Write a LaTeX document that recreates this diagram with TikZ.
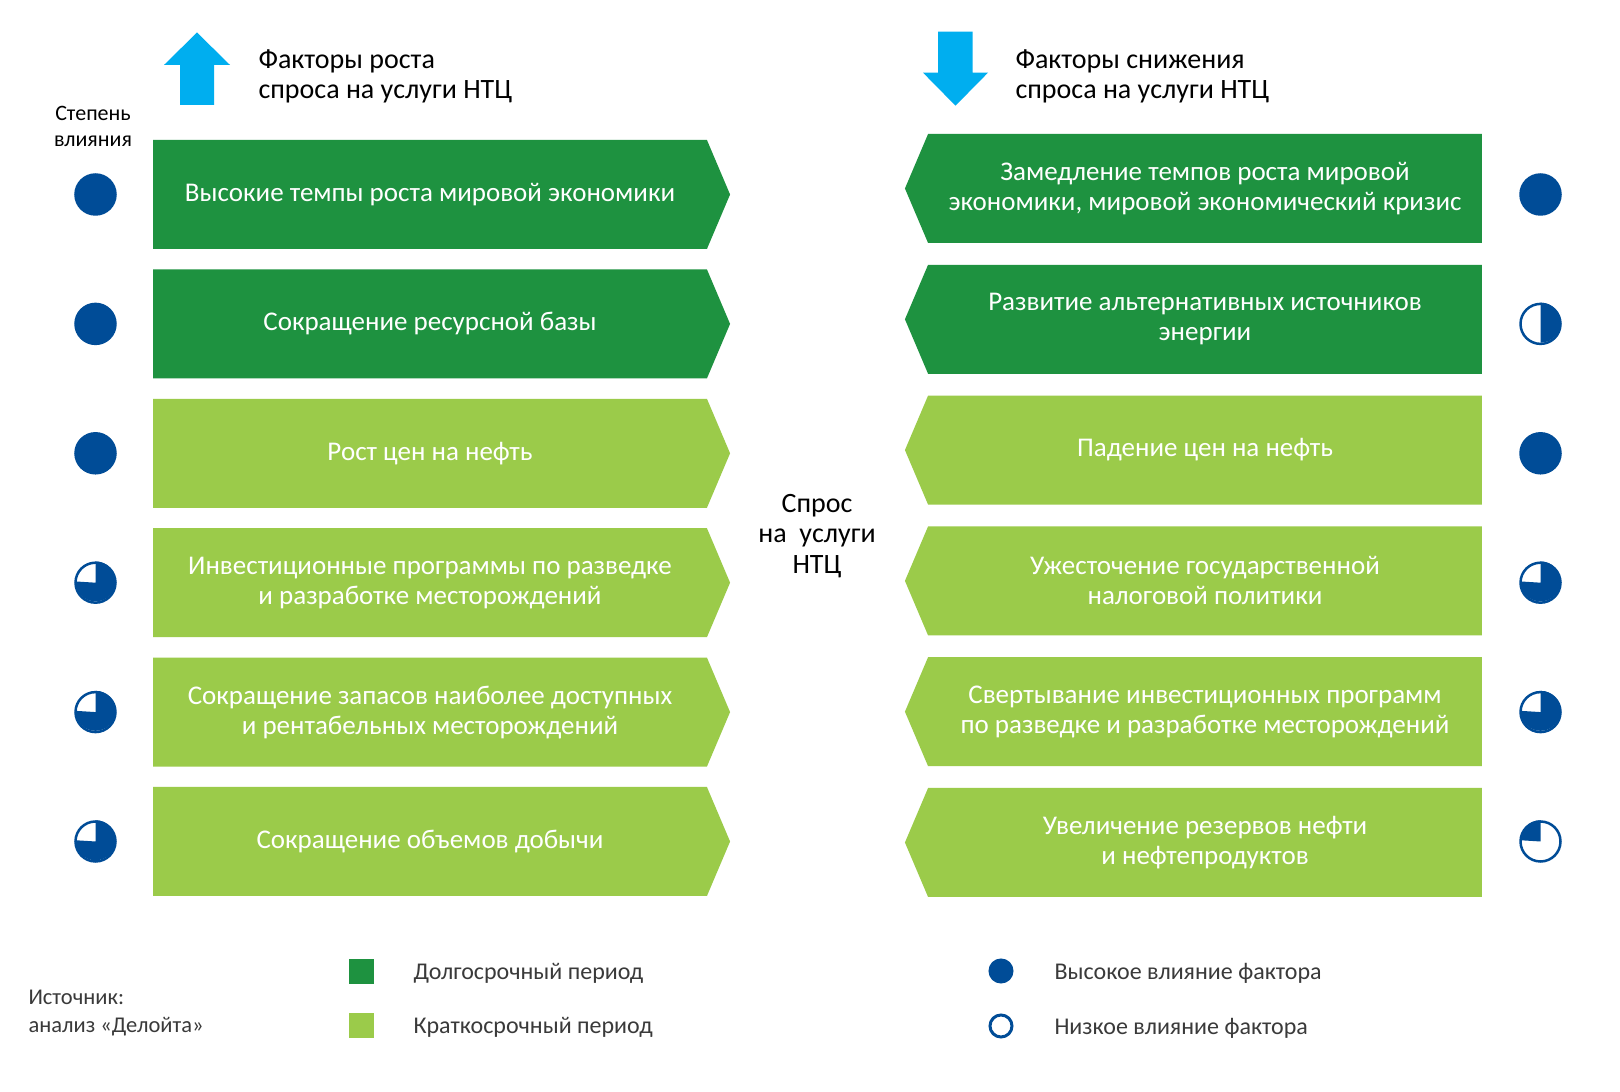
\documentclass[tikz,border=0pt]{standalone}
\usepackage{fontspec}
\setmainfont{Carlito}
\usetikzlibrary{shapes.symbols}
\definecolor{longgreen}{HTML}{1E9240}
\definecolor{shortgreen}{HTML}{9BCB4A}
\definecolor{arrowblue}{HTML}{00AEEF}
\definecolor{impactblue}{HTML}{004C97}
\definecolor{legendgray}{HTML}{3A3A3A}
\begin{document}
\begin{tikzpicture}[x=1pt, y=1pt,
    factor/.style={signal, signal pointer angle=134, minimum width=577pt,
        minimum height=109pt, inner sep=0pt, text=white, align=center,
        font=\fontsize{27}{30}\selectfont},
    growth/.style={factor, signal to=east},
    decline/.style={factor, signal to=west},
    long/.style={fill=longgreen},
    short/.style={fill=shortgreen},
    impact/.style={circle, draw=impactblue, line width=2.5pt, fill=white,
        minimum size=40pt, inner sep=0pt},
    high/.style={impact, fill=impactblue},
    swatch/.style={minimum size=25pt, inner sep=0pt},
    keydot/.style={circle, draw=impactblue, line width=3pt, fill=white,
        minimum size=22pt, inner sep=0pt},
    caption/.style={anchor=west, align=left, text=black,
        font=\fontsize{28}{30}\selectfont},
    legend/.style={anchor=west, text=legendgray,
        font=\fontsize{24}{27}\selectfont}
]
    \useasboundingbox[fill=white] (0,0) rectangle (1620,1092);
    \fill[arrowblue] (180,987) -- (214,987) -- (214,1027) -- (230,1027)
        -- (197,1059.5) -- (164,1027) -- (180,1027) -- cycle;
    \fill[arrowblue] (938,1060.3) -- (972.5,1060.3) -- (972.5,1019.3)
        -- (988,1019.3) -- (955.5,986.3) -- (923,1019.3) -- (938,1019.3) -- cycle;
    \node[caption] (upcap) at (255,1015.5) {Факторы роста\\спроса на услуги НТЦ};
    \node[caption] (downcap) at (1012,1015.5) {Факторы снижения\\спроса на услуги НТЦ};
    \node[align=center, text=black, font=\fontsize{22}{26}\selectfont]
        (degree) at (93,966) {Степень\\влияния};
    \node[align=center, text=black, font=\fontsize{28}{30.5}\selectfont]
        (demand) at (817,556) {Спрос\\на~~услуги\\НТЦ};

    \node[growth, long] (g1) at (430,897.5) {Высокие темпы роста мировой экономики};
    \node[growth, long] (g2) at (430,768.1) {Сокращение ресурсной базы};
    \node[growth, short] (g3) at (430,638.7) {Рост цен на нефть};
    \node[growth, short] (g4) at (430,509.3) {Инвестиционные программы по разведке\\и разработке месторождений};
    \node[growth, short] (g5) at (430,379.9) {Сокращение запасов наиболее доступных\\и рентабельных месторождений};
    \node[growth, short] (g6) at (430,250.5) {Сокращение объемов добычи};

    \node[decline, long] (d1) at (1205,903.5) {Замедление темпов роста мировой\\экономики, мировой экономический кризис};
    \node[decline, long] (d2) at (1205,772.7) {Развитие альтернативных источников\\энергии};
    \node[decline, short] (d3) at (1205,641.9) {Падение цен на нефть};
    \node[decline, short] (d4) at (1205,511.1) {Ужесточение государственной\\налоговой политики};
    \node[decline, short] (d5) at (1205,380.3) {Свертывание инвестиционных программ\\по разведке и разработке месторождений};
    \node[decline, short] (d6) at (1205,249.5) {Увеличение резервов нефти\\и нефтепродуктов};

    \node[high] (gi1) at (95.5,897.5) {};
    \node[high] (gi2) at (95.5,768.1) {};
    \node[high] (gi3) at (95.5,638.7) {};
    \node[impact] (gi4) at (95.5,509.3) {};
    \node[impact] (gi5) at (95.5,379.9) {};
    \node[impact] (gi6) at (95.5,250.5) {};
    \fill[impactblue] (gi4.center) -- (gi4.north) arc[start angle=90, end angle=-180, radius=20pt] -- cycle;
    \fill[impactblue] (gi5.center) -- (gi5.north) arc[start angle=90, end angle=-180, radius=20pt] -- cycle;
    \fill[impactblue] (gi6.center) -- (gi6.north) arc[start angle=90, end angle=-180, radius=20pt] -- cycle;

    \node[high] (di1) at (1540.5,897.5) {};
    \node[impact] (di2) at (1540.5,768.1) {};
    \node[high] (di3) at (1540.5,638.7) {};
    \node[impact] (di4) at (1540.5,509.3) {};
    \node[impact] (di5) at (1540.5,379.9) {};
    \node[impact] (di6) at (1540.5,250.5) {};
    \fill[impactblue] (di2.center) -- (di2.north) arc[start angle=90, end angle=-90, radius=20pt] -- cycle;
    \fill[impactblue] (di4.center) -- (di4.north) arc[start angle=90, end angle=-180, radius=20pt] -- cycle;
    \fill[impactblue] (di5.center) -- (di5.north) arc[start angle=90, end angle=-180, radius=20pt] -- cycle;
    \fill[impactblue] (di6.center) -- (di6.north) arc[start angle=90, end angle=180, radius=20pt] -- cycle;

    \node[anchor=west, align=left, text=legendgray, font=\fontsize{22.5}{28}\selectfont]
        (source) at (25,79) {Источник:\\анализ «Делойта»};
    \node[swatch, long] (longkey) at (361.5,120.5) {};
    \node[swatch, short] (shortkey) at (361.5,66.5) {};
    \node[legend] (longtext) at (410,118.5) {Долгосрочный период};
    \node[legend] (shorttext) at (410,64.5) {Краткосрочный период};
    \node[keydot, fill=impactblue] (highkey) at (1001,121) {};
    \node[keydot] (lowkey) at (1001,66) {};
    \node[legend] (hightext) at (1051,119) {Высокое влияние фактора};
    \node[legend] (lowtext) at (1051,64) {Низкое влияние фактора};
\end{tikzpicture}
\end{document}
